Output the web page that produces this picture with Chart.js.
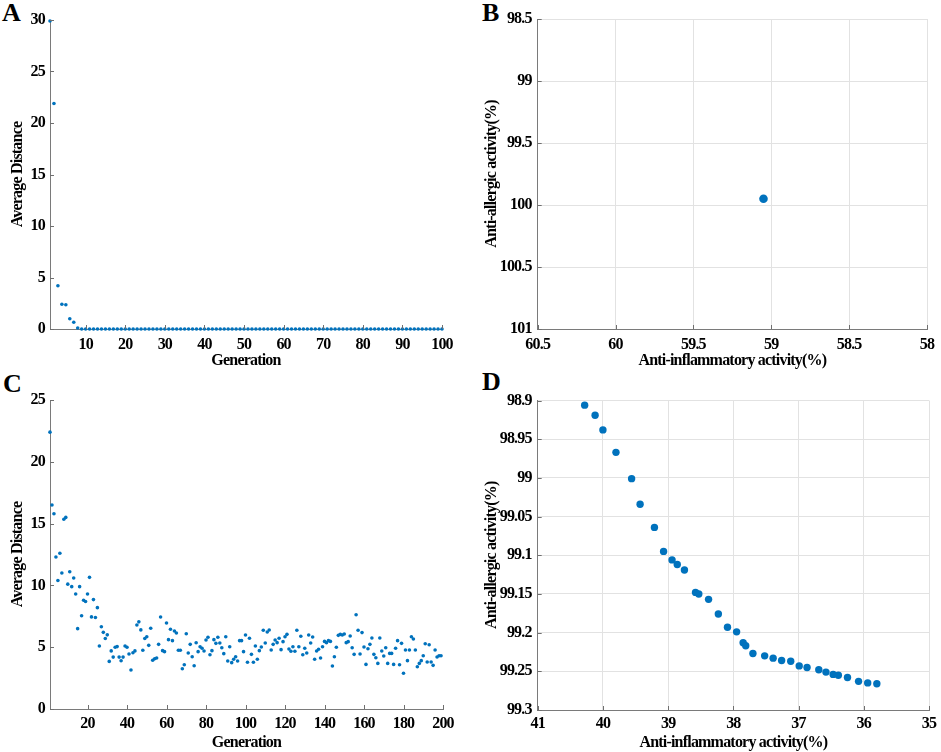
<!DOCTYPE html>
<html>
<head>
<meta charset="utf-8">
<script src="https://cdn.jsdelivr.net/npm/chart.js@4"></script>
<style>
  html, body { margin: 0; padding: 0; background: #fff; }
  body { width: 941px; height: 752px; position: relative; overflow: hidden; }
  canvas { position: absolute; }
  .lbl { position: absolute; font: bold 26px "Liberation Serif", "Times New Roman", serif; line-height: 1; color: #000; }
</style>
</head>
<body>
<div class="lbl" style="left:2px;top:0px;">A</div>
<div class="lbl" style="left:482px;top:0px;">B</div>
<div class="lbl" style="left:3px;top:371px;">C</div>
<div class="lbl" style="left:482px;top:369px;">D</div>
<canvas id="cA" width="460" height="372" style="left:0;top:0;"></canvas>
<canvas id="cB" width="481" height="372" style="left:460px;top:0;"></canvas>
<canvas id="cC" width="460" height="380" style="left:0;top:372px;"></canvas>
<canvas id="cD" width="481" height="380" style="left:460px;top:372px;"></canvas>
<script>
// ---------- DATA ----------
// Panel A: average distance per generation (generations 1..100)
const aDistance = [29.9, 21.9, 4.2, 2.4, 2.35, 1.0, 0.65, 0.1, 0, 0,
  0, 0, 0, 0, 0, 0, 0, 0, 0, 0,
  0, 0, 0, 0, 0, 0, 0, 0, 0, 0,
  0, 0, 0, 0, 0, 0, 0, 0, 0, 0,
  0, 0, 0, 0, 0, 0, 0, 0, 0, 0,
  0, 0, 0, 0, 0, 0, 0, 0, 0, 0,
  0, 0, 0, 0, 0, 0, 0, 0, 0, 0,
  0, 0, 0, 0, 0, 0, 0, 0, 0, 0,
  0, 0, 0, 0, 0, 0, 0, 0, 0, 0,
  0, 0, 0, 0, 0, 0, 0, 0, 0, 0];
const aXTicks = [10, 20, 30, 40, 50, 60, 70, 80, 90, 100];
const aYTicks = [0, 5, 10, 15, 20, 25, 30];

// Panel B: single Pareto point
const bInflammatory = [59.05];
const bAllergic = [99.95];
const bXTicks = [60.5, 60, 59.5, 59, 58.5, 58];
const bYTicks = [98.5, 99, 99.5, 100, 100.5, 101];

// Panel C: average distance per generation (generations 1..199)
const cDistance = [
  22.4, 16.5, 15.8, 12.3, 10.4, 12.6, 11.0, 15.35, 15.5, 10.1,
  11.1, 9.9, 10.6, 9.3, 6.5, 9.9, 7.55, 8.8, 8.7, 9.3,
  10.65, 7.45, 8.85, 7.4, 8.2, 5.1, 6.65, 6.2, 5.7, 6.0,
  3.85, 4.7, 4.2, 5.0, 5.05, 4.2, 3.9, 4.2, 5.1, 5.0,
  4.45, 3.15, 4.55, 4.7, 6.8, 7.05, 6.4, 4.75, 5.7,
  5.85, 5.15, 6.53, 3.94, 4.07, 4.13, 5.23, 7.44, 4.72, 4.64,
  6.96, 5.61, 6.45, 5.53, 6.31, 6.15, 4.75, 4.75, 3.26, 3.58,
  6.09, 4.53, 5.23, 4.23, 3.5, 5.36, 4.64, 5.04, 4.91, 4.69,
  5.58, 5.8, 4.39, 4.72, 5.61, 5.31, 5.8, 5.34, 4.96, 4.48,
  5.85, 3.88, 5.04, 3.75, 4.02, 4.23, 3.88, 5.53, 5.53, 4.64,
  5.99, 3.78,
  5.72, 4.42, 3.78, 5.1, 4.02, 4.72, 5.02, 6.37, 5.34, 6.23,
  6.39, 4.77, 5.23, 5.58, 5.37, 5.72, 4.8, 5.45, 5.85, 6.04,
  4.85, 4.67, 5.04, 4.67, 6.37, 5.04, 5.88, 4.39, 4.91, 4.53,
  5.99, 5.34, 5.83, 4.02, 4.69, 4.83, 4.13, 5.04, 5.47, 5.37,
  5.53, 5.47, 3.48, 4.23, 4.99, 5.96, 6.04,
  5.99, 6.07, 5.37, 5.45, 5.91, 4.96, 4.42, 7.63, 6.37, 4.45,
  6.18, 5.02, 3.61, 4.88, 5.23, 5.74, 4.42, 4.15, 3.69, 5.74,
  4.69, 4.29, 4.96, 3.69, 4.5, 4.5, 3.61, 4.91, 5.53, 3.58,
  5.31, 2.89, 4.77, 3.91, 4.77, 5.85, 5.66, 4.77, 3.42, 3.69,
  3.91, 4.31, 5.28, 3.8, 5.2, 3.8, 3.53, 4.77, 4.21, 4.31, 4.31];
const cXTicks = [20, 40, 60, 80, 100, 120, 140, 160, 180, 200];
const cYTicks = [0, 5, 10, 15, 20, 25];

// Panel D: Pareto front
const dInflammatory = [40.28, 40.12, 40.00, 39.80, 39.56, 39.43, 39.21, 39.07, 38.94, 38.86,
  38.75, 38.58, 38.53, 38.38, 38.23, 38.09, 37.95, 37.85, 37.81, 37.70,
  37.52, 37.39, 37.26, 37.12, 36.99, 36.87, 36.69, 36.58, 36.47, 36.39,
  36.25, 36.08, 35.94, 35.80];
const dAllergic = [98.906, 98.919, 98.938, 98.967, 99.001, 99.034, 99.064, 99.095, 99.106, 99.112,
  99.119, 99.148, 99.150, 99.157, 99.176, 99.193, 99.199, 99.213, 99.217, 99.227,
  99.230, 99.233, 99.236, 99.237, 99.243, 99.245, 99.248, 99.251, 99.254, 99.255,
  99.258, 99.263, 99.265, 99.266];
const dXTicks = [41, 40, 39, 38, 37, 36, 35];
const dYTicks = [98.9, 98.95, 99, 99.05, 99.1, 99.15, 99.2, 99.25, 99.3];

// ---------- STYLE ----------
const BLUE = '#0072BD';
const FONT = { family: '"Liberation Serif", "Times New Roman", serif', size: 16, weight: 'bold' };

const letterSpacingPlugin = {
  id: 'lspace',
  beforeDraw(chart) { chart.ctx.letterSpacing = '-0.8px'; }
};

const inTicksPlugin = {
  id: 'inTicks',
  afterDraw(chart) {
    const { ctx, chartArea: a } = chart;
    const xs = chart.scales.x, ys = chart.scales.y;
    ctx.save();
    ctx.strokeStyle = '#6f6f6f';
    ctx.lineWidth = 1;
    ctx.beginPath();
    xs.ticks.forEach(t => {
      const px = Math.round(xs.getPixelForValue(t.value)) + 0.5;
      ctx.moveTo(px, a.bottom); ctx.lineTo(px, a.bottom - 4);
    });
    ys.ticks.forEach(t => {
      const py = Math.round(ys.getPixelForValue(t.value)) + 0.5;
      ctx.moveTo(a.left, py); ctx.lineTo(a.left + 4, py);
    });
    ctx.stroke();
    ctx.restore();
  }
};

function axis(cfg) {
  return {
    type: 'linear',
    min: cfg.min, max: cfg.max, reverse: !!cfg.reverse,
    afterBuildTicks: s => { s.ticks = cfg.ticks.map(v => ({ value: v })); },
    afterFit: s => { if (cfg.width !== undefined) s.width = cfg.width; if (cfg.height !== undefined) s.height = cfg.height; },
    grid: { display: !!cfg.grid, drawTicks: false, color: '#e2e2e2', lineWidth: 1 },
    border: { display: true, color: '#7a7a7a', width: 1 },
    ticks: { autoSkip: false, maxRotation: 0, padding: cfg.tickPad, color: '#000', font: FONT, callback: v => String(v) },
    title: { display: true, text: cfg.title, color: '#000', font: FONT, padding: cfg.titlePad }
  };
}

function make(id, points, radius, pad, xa, ya) {
  return new Chart(document.getElementById(id), {
    type: 'scatter',
    data: { datasets: [{ data: points, backgroundColor: BLUE, borderWidth: 0, pointRadius: radius, pointHoverRadius: radius, clip: false }] },
    options: {
      responsive: false, animation: false, events: [],
      layout: { autoPadding: false, padding: pad },
      plugins: { legend: { display: false }, tooltip: { enabled: false } },
      scales: { x: axis(xa), y: axis(ya) }
    },
    plugins: [letterSpacingPlugin, inTicksPlugin]
  });
}

// Panel A
make('cA', aDistance.map((v, i) => ({ x: i + 1, y: v })), 1.8,
  { top: 20, right: 17, left: 0, bottom: 0 },
  { min: 1, max: 100, ticks: aXTicks, height: 43, tickPad: 6, title: 'Generation', titlePad: { top: 0, bottom: 2 } },
  { min: 0, max: 30, ticks: aYTicks, width: 50, tickPad: 5, title: 'Average Distance', titlePad: { top: 8, bottom: 0 } });

// Panel B
make('cB', bInflammatory.map((v, i) => ({ x: v, y: bAllergic[i] })), 4.3,
  { top: 19, right: 9.3, left: 0, bottom: 0 },
  { min: 58, max: 60.5, reverse: true, grid: true, ticks: bXTicks, height: 43, tickPad: 6, title: 'Anti-inflammatory activity(%)', titlePad: { top: 0, bottom: 2 } },
  { min: 98.5, max: 101, reverse: true, grid: true, ticks: bYTicks, width: 77.7, tickPad: 6, title: 'Anti-allergic activity(%)', titlePad: { top: 22, bottom: 0 } });

// Panel C
make('cC', cDistance.map((v, i) => ({ x: i + 1, y: v })), 1.8,
  { top: 28, right: 16, left: 0, bottom: 0 },
  { min: 1, max: 200, ticks: cXTicks, height: 43, tickPad: 5, title: 'Generation', titlePad: { top: 0, bottom: 0 } },
  { min: 0, max: 25, ticks: cYTicks, width: 50, tickPad: 5, title: 'Average Distance', titlePad: { top: 8, bottom: 0 } });

// Panel D
make('cD', dInflammatory.map((v, i) => ({ x: v, y: dAllergic[i] })), 3.7,
  { top: 28.5, right: 9.3, left: 0, bottom: 0 },
  { min: 35, max: 41, reverse: true, grid: true, ticks: dXTicks, height: 42, tickPad: 4, title: 'Anti-inflammatory activity(%)', titlePad: { top: 0, bottom: 0 } },
  { min: 98.9, max: 99.3, reverse: true, grid: true, ticks: dYTicks, width: 77.7, tickPad: 6, title: 'Anti-allergic activity(%)', titlePad: { top: 22, bottom: 0 } });
</script>
</body>
</html>
